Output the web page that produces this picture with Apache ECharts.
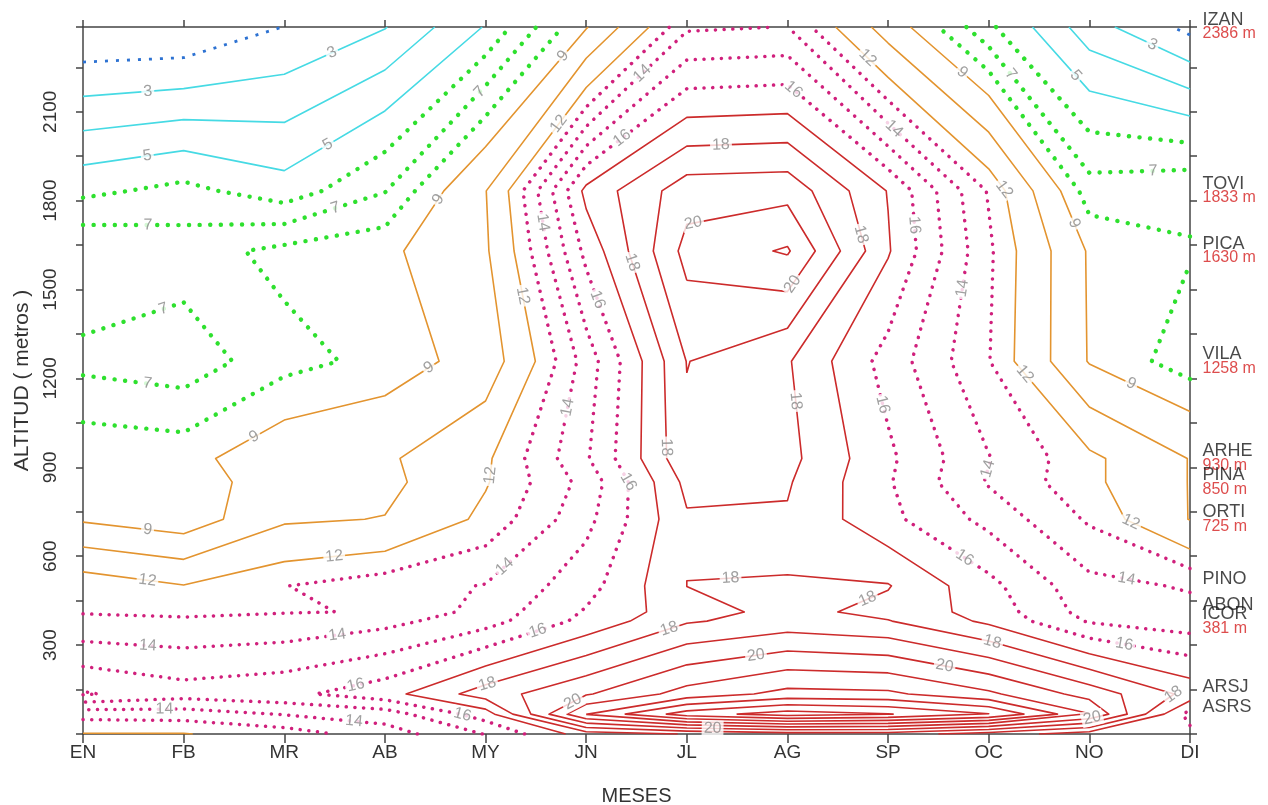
<!DOCTYPE html>
<html><head><meta charset="utf-8">
<script src="https://cdn.jsdelivr.net/npm/echarts@6/dist/echarts.min.js"></script>
<style>html,body{margin:0;padding:0;background:#fff}#c{width:1268px;height:805px}</style>
</head><body><div id="c"></div>
<script>
// ---------- data ----------
const months = ['EN','FB','MR','AB','MY','JN','JL','AG','SP','OC','NO','DI'];
// grid rows (altitude, m), ascending
const rowAlt = [0, 67, 135, 381, 412, 500, 725, 850, 930, 1258, 1630, 1833, 2386];
// temperature (deg C) per month at each row altitude (ascending)
const tEN = [11.95, 13.4, 16.1, 13.19, 12.95, 12.84, 8.82, 8.8, 8.77, 6.7, 7.96, 5.75, 0.98];
const tFB = [11.95, 13.5, 15.44, 13.16, 12.8, 12.05, 8.15, 8.3, 8.59, 6.39, 7.53, 6.3, 1.01];
const tMR = [12.5, 14.05, 15.73, 13.3, 12.95, 12.97, 10.3, 9.75, 9.88, 7.65, 8.29, 5.42, 2.02];
const tAB = [13.5, 14.5, 16.6, 13.7, 13.05, 13.57, 10.55, 10.1, 10.27, 8.3, 8.7, 6.95, 2.95];
const tMY = [15.05, 16.5, 18.5, 14.6, 14.4, 14.05, 12.3, 11.9, 11.8, 9.6, 10.3, 10.45, 5.07];
const tJN = [17.5, 22.05, 19.9, 16.3, 16.1, 15.6, 14.7, 14.35, 14.88, 14.45, 16.3, 17.3, 8.9];
const tJL = [18.05, 24.5, 21.4, 17.9, 17.6, 18.01, 17.88, 18.28, 18.78, 19.03, 20.35, 19.56, 13.85];
const tAG = [18.5, 25.5, 22.3, 18.4, 18.3, 18.02, 17.9, 18.1, 18.3, 18.1, 21.11, 19.66, 14.02];
const tSP = [18.5, 25.05, 22.2, 18.05, 17.7, 18.06, 16.26, 16.1, 16.2, 15.6, 17.1, 16.95, 9.8];
const tOC = [17.5, 24.05, 21.2, 16.8, 16.6, 16.3, 14.7, 13.9, 14.05, 13.05, 13.2, 12.9, 6.2];
const tNO = [16.5, 21.05, 19.6, 14.9, 14.6, 14.3, 12.85, 12.3, 12.3, 8.9, 8.84, 7.44, 3.44];
const tDI = [16.3, 15.6, 17.7, 14.45, 14.3, 13.9, 10.45, 10.45, 10.45, 7.45, 8.07, 7.78, 1.7];
const monthTemps = [tEN,tFB,tMR,tAB,tMY,tJN,tJL,tAG,tSP,tOC,tNO,tDI];
// contour levels and the ones that carry a label
const levels = [2,3,4,5,6,7,8,9,10.5,12,13,14,15,16,17,18,19,20,21,22,23,24,25];
const labeledLevels = [3,5,7,9,12,14,16,18,20];
// stations (right side)
const stationNames = ['IZAN','TOVI','PICA','VILA','ARHE','PINA','ORTI','PINO','ABON','ICOR','ARSJ','ASRS'];
const stationAlt   = [2386, 1833, 1630, 1258, 930, 850, 725, 500, 412, 381, 135, 67];
const stationText  = ['2386 m','1833 m','1630 m','1258 m','930 m','850 m','725 m','','','381 m','',''];

// ---------- style ----------
const FONT = '"Liberation Sans",Arial,sans-serif';
const AX = '#444444';
function styleFor(L){
  if (L <= 2)  return {color:'#2d72d2', width:2.8, type:[3,8], cap:'butt'};
  if (L <= 5)  return {color:'#46dae4', width:1.6, type:'solid'};
  if (L <= 8)  return {color:'#2ee02e', width:4.4, type:[0.1,10.5], cap:'round'};
  if (L <= 12) return {color:'#e3942f', width:1.6, type:'solid'};
  if (L <= 16) return {color:'#d0207c', width:3.5, type:[0.1,8.6], cap:'round'};
  return {color:'#cc2b2b', width:1.6, type:'solid'};
}

// ---------- contouring (marching squares on month x altitude grid) ----------
const NX = months.length, NY = rowAlt.length;
function T(i,j){ return monthTemps[i][j]; }
function contourLevel(L){
  const v = (i,j) => { const t = T(i,j); return t === L ? t + 1e-6 : t; };
  const H = (i,j) => { const a=v(i,j), b=v(i+1,j); const t=(L-a)/(b-a); return {k:'h'+i+'_'+j, p:[i+t, rowAlt[j]]}; };
  const V = (i,j) => { const a=v(i,j), b=v(i,j+1); const t=(L-a)/(b-a); return {k:'v'+i+'_'+j, p:[i, rowAlt[j]+t*(rowAlt[j+1]-rowAlt[j])]}; };
  const segs = [];
  for (let j=0;j<NY-1;j++) for (let i=0;i<NX-1;i++){
    const a=v(i,j), b=v(i+1,j), c=v(i+1,j+1), d=v(i,j+1);
    const idx = (a>L?1:0)|(b>L?2:0)|(c>L?4:0)|(d>L?8:0);
    if (idx===0||idx===15) continue;
    const bo=()=>H(i,j), ri=()=>V(i+1,j), to=()=>H(i,j+1), le=()=>V(i,j);
    const ctr = (a+b+c+d)/4;
    switch(idx){
      case 1: case 14: segs.push([le(),bo()]); break;
      case 2: case 13: segs.push([bo(),ri()]); break;
      case 3: case 12: segs.push([le(),ri()]); break;
      case 4: case 11: segs.push([ri(),to()]); break;
      case 6: case 9:  segs.push([bo(),to()]); break;
      case 7: case 8:  segs.push([le(),to()]); break;
      case 5: if (ctr>L){segs.push([bo(),ri()]);segs.push([to(),le()]);} else {segs.push([le(),bo()]);segs.push([ri(),to()]);} break;
      case 10: if (ctr>L){segs.push([le(),bo()]);segs.push([ri(),to()]);} else {segs.push([bo(),ri()]);segs.push([to(),le()]);} break;
    }
  }
  const adj = new Map();
  segs.forEach((s,n)=>{ s.forEach(e=>{ if(!adj.has(e.k)) adj.set(e.k,[]); adj.get(e.k).push(n); }); });
  const used = new Array(segs.length).fill(false);
  const lines = [];
  function walk(n, key){
    const s0 = segs[n];
    const pts = [ (s0[0].k===key ? s0[0] : s0[1]).p ];
    let from = key;
    while (true){
      used[n] = true;
      const s = segs[n];
      const other = s[0].k===from ? s[1] : s[0];
      pts.push(other.p);
      const nx = (adj.get(other.k)||[]).filter(m=>!used[m]);
      if (!nx.length) break;
      n = nx[0]; from = other.k;
    }
    return pts;
  }
  for (const [k,list] of adj) if (list.length===1 && !used[list[0]]) lines.push(walk(list[0],k));
  for (let n=0;n<segs.length;n++) if(!used[n]) lines.push(walk(n, segs[n][0].k));
  return lines;
}

const contourLines = [];
levels.forEach(L => contourLevel(L).forEach(pts => contourLines.push({level:L, pts})));

const lineSeries = contourLines.map(c => {
  const st = styleFor(c.level);
  return {type:'line', xAxisIndex:0, yAxisIndex:0, data:c.pts, showSymbol:false, symbol:'none',
    silent:true, animation:false, z:2, clip:true,
    lineStyle:{color:st.color, width:st.width, type:st.type, cap:st.cap||'butt', join:'round'}};
});

const stationSeries = {
  type:'scatter', xAxisIndex:0, yAxisIndex:0, silent:true, z:6, clip:false,
  symbolSize:1, itemStyle:{color:'rgba(0,0,0,0)'},
  data: stationNames.map((n,k)=>({value:[11, stationAlt[k]], name:n, alt:stationText[k]})),
  label:{show:true, position:'right', distance:12, fontFamily:FONT,
    formatter: p => '{n|'+p.data.name+'}\n{a|'+(p.data.alt||' ')+'}',
    rich:{ n:{fontSize:18, color:'#1a1a1a', lineHeight:14, fontFamily:FONT},
           a:{fontSize:16, color:'#d42020', lineHeight:14, fontFamily:FONT} } }
};

const axisLineStyle = {color:AX, width:1.5};
const option = {
  animation:false, backgroundColor:'#ffffff',
  grid:{left:83, right:78, top:27, bottom:71, containLabel:false, outerBoundsMode:'none'},
  xAxis:[
    {type:'value', min:0, max:11, interval:1, position:'bottom',
     axisLine:{show:true, onZero:false, lineStyle:axisLineStyle},
     axisTick:{show:true, length:9, lineStyle:axisLineStyle},
     axisLabel:{formatter:v=>months[v]||'', color:'#333', fontSize:19, margin:9, fontFamily:FONT},
     splitLine:{show:false},
     name:'MESES', nameLocation:'middle', nameGap:52, nameTextStyle:{fontSize:20, color:'#333', fontFamily:FONT}},
    {type:'value', min:0, max:11, interval:1, position:'top',
     axisLine:{show:true, onZero:false, lineStyle:axisLineStyle},
     axisTick:{show:true, length:7, lineStyle:axisLineStyle},
     axisLabel:{show:false}, splitLine:{show:false}}
  ],
  yAxis:[
    {type:'value', min:0, max:2386, interval:150, position:'left',
     axisLine:{show:true, onZero:false, lineStyle:axisLineStyle},
     axisTick:{show:true, length:7, lineStyle:axisLineStyle},
     axisLabel:{rotate:90, formatter:v=>(v>0 && v%300===0 && v<2300)?String(v):'', color:'#333', fontSize:19, margin:23, fontFamily:FONT},
     splitLine:{show:false},
     name:'ALTITUD ( metros )', nameLocation:'middle', nameGap:50, nameRotate:90,
     nameTextStyle:{fontSize:21, color:'#333', fontFamily:FONT}},
    {type:'value', min:0, max:2386, interval:150, position:'right',
     axisLine:{show:true, onZero:false, lineStyle:axisLineStyle},
     axisTick:{show:true, length:7, lineStyle:axisLineStyle},
     axisLabel:{show:false}, splitLine:{show:false}}
  ],
  series: lineSeries.concat([stationSeries])
};

const chart = echarts.init(document.getElementById('c'), null, {renderer:'canvas'});
chart.setOption(option);

// ---------- contour labels placed along the drawn lines ----------
const labelData = [];
contourLines.forEach(c => {
  if (!labeledLevels.includes(c.level)) return;
  const px = c.pts.map(p => chart.convertToPixel({gridIndex:0}, p));
  const cum = [0];
  for (let k=1;k<px.length;k++) cum.push(cum[k-1] + Math.hypot(px[k][0]-px[k-1][0], px[k][1]-px[k-1][1]));
  const total = cum[cum.length-1];
  if (total < 45) return;
  let d = Math.min(65, total/2);
  while (d < total - 15){
    let k = 1; while (k < cum.length-1 && cum[k] < d) k++;
    const seg = Math.max(1e-6, cum[k]-cum[k-1]);
    const t = (d-cum[k-1])/seg;
    const x = px[k-1][0] + t*(px[k][0]-px[k-1][0]);
    const y = px[k-1][1] + t*(px[k][1]-px[k-1][1]);
    let ang = -Math.atan2(px[k][1]-px[k-1][1], px[k][0]-px[k-1][0])*180/Math.PI;
    if (ang > 90) ang -= 180; if (ang < -90) ang += 180;
    if (x > 88 && x < 1185 && y > 32 && y < 729)
      labelData.push({name:String(c.level), value:chart.convertFromPixel({gridIndex:0},[x,y]), label:{rotate:ang}});
    d += 190;
  }
});
chart.setOption({series: option.series.concat([{
  type:'scatter', xAxisIndex:0, yAxisIndex:0, silent:true, z:5, symbolSize:1,
  itemStyle:{color:'rgba(0,0,0,0)'}, data:labelData,
  label:{show:true, position:'inside', formatter:'{b}', color:'#888888', fontSize:16, fontFamily:FONT,
    backgroundColor:'#ffffff', padding:[0,2]}
}])});
</script></body></html>
